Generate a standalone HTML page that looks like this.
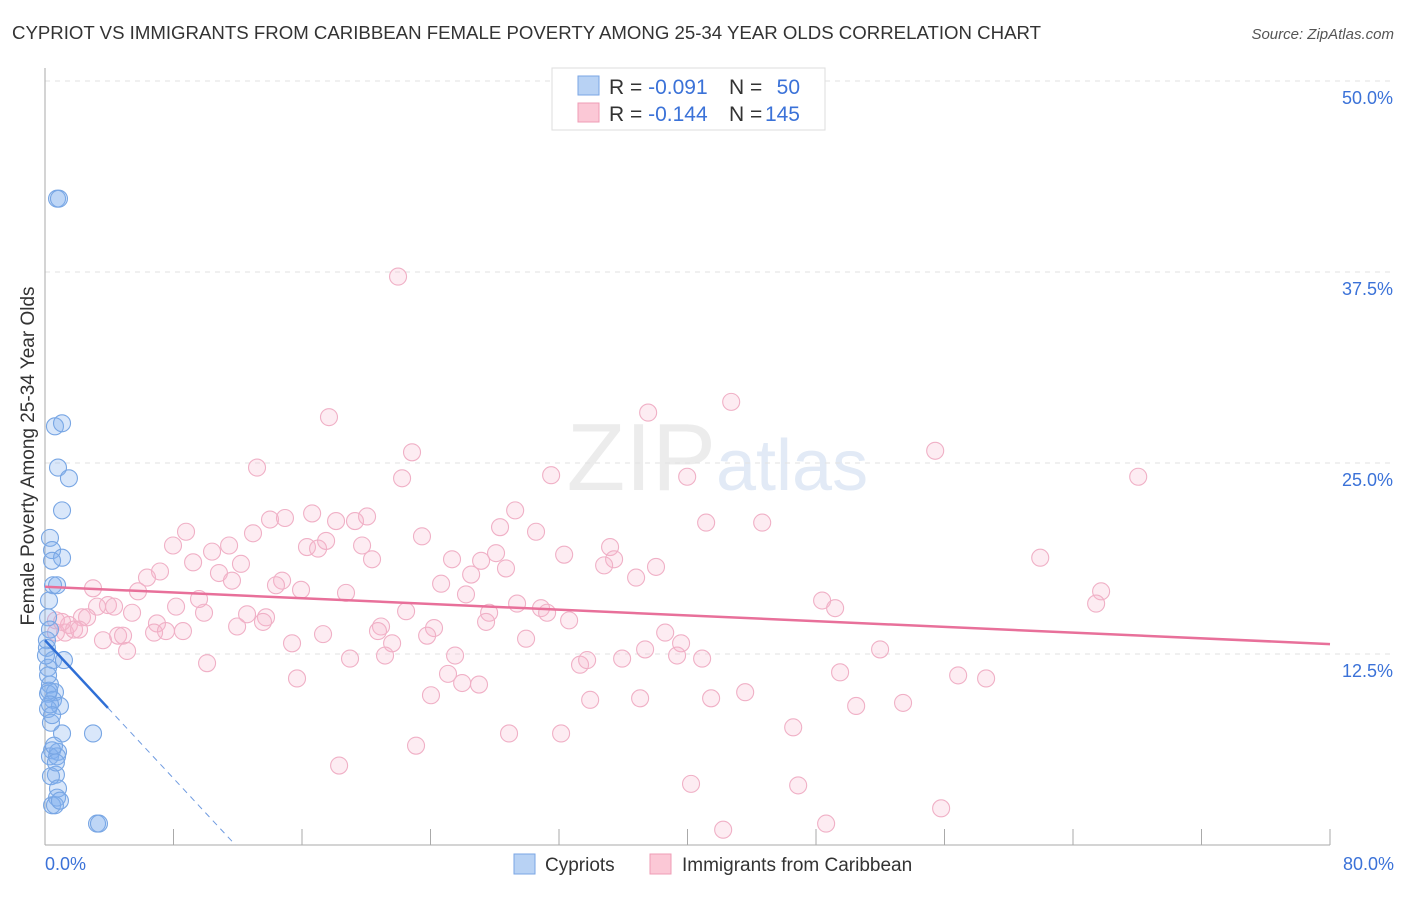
<!DOCTYPE html>
<html><head><meta charset="utf-8"><style>
body{margin:0;background:#fff;font-family:"Liberation Sans",sans-serif;}
svg text{font-family:"Liberation Sans",sans-serif;}
</style></head><body>
<svg id="chart" width="1406" height="892" xmlns="http://www.w3.org/2000/svg">
<text x="12" y="39" font-size="18.6" fill="#333" textLength="1029" lengthAdjust="spacingAndGlyphs">CYPRIOT VS IMMIGRANTS FROM CARIBBEAN FEMALE POVERTY AMONG 25-34 YEAR OLDS CORRELATION CHART</text>
<text x="1394" y="39" font-size="15" fill="#555" text-anchor="end" font-style="italic">Source: ZipAtlas.com</text>
<text x="716" y="490" font-size="96" fill="#ececec" text-anchor="end" font-family="Liberation Serif">ZIP</text>
<text x="716" y="490" font-size="72" fill="#e2eaf6">atlas</text>
<g id="grid"></g><g id="axes"></g><g id="pts"></g><g id="lines"></g>
<text transform="translate(34,456) rotate(-90)" font-size="19" fill="#333" text-anchor="middle">Female Poverty Among 25-34 Year Olds</text>
<g>
<rect x="552" y="68" width="273" height="62" fill="#fff" stroke="#ddd"/>
<rect x="578" y="76" width="21" height="19" fill="#b8d2f4" stroke="#7aa6e4"/>
<rect x="578" y="103" width="21" height="19" fill="#fbc8d6" stroke="#ef9cb6"/>
<text x="609" y="94" font-size="21" fill="#333">R = <tspan fill="#3b72d8">-0.091</tspan></text>
<text x="729" y="94" font-size="21" fill="#333">N = </text>
<text x="800" y="94" font-size="21" fill="#3b72d8" text-anchor="end">50</text>
<text x="609" y="121" font-size="21" fill="#333">R = <tspan fill="#3b72d8">-0.144</tspan></text>
<text x="729" y="121" font-size="21" fill="#333">N = </text>
<text x="800" y="121" font-size="21" fill="#3b72d8" text-anchor="end">145</text>
</g>
<g>
<rect x="514" y="854" width="21" height="20" fill="#b8d2f4" stroke="#7aa6e4"/>
<text x="545" y="871" font-size="19" fill="#333">Cypriots</text>
<rect x="650" y="854" width="21" height="20" fill="#fbc8d6" stroke="#ef9cb6"/>
<text x="682" y="871" font-size="19" fill="#333">Immigrants from Caribbean</text>
</g>
</svg>
<script>
const yTicks=[12.5,25,37.5,50];
const yTickLabels=["12.5%","25.0%","37.5%","50.0%"];
const xTickLabels=["0.0%","80.0%"];
const blueX=[.75,.87,.62,1.06,.81,1.49,1.06,.31,.44,1.06,.44,.5,.75,.25,.19,.31,.12,.5,1.18,.19,.31,.62,.19,.5,.93,.19,.37,1.06,2.99,.44,.81,.31,.75,.68,.37,.81,.75,.44,.62,3.24,3.36,.12,.06,.25,.31,.56,.68,.93,.19,.44];
const blueY=[42.3,42.3,27.4,27.6,24.7,24.0,21.9,20.1,19.3,18.8,18.6,17.0,17.0,16.0,14.9,14.1,12.9,12.1,12.1,11.6,10.5,10.0,9.9,9.5,9.1,8.9,8.0,7.3,7.3,6.2,6.1,5.8,5.8,4.6,4.5,3.7,3.1,2.6,2.6,1.4,1.4,13.4,12.4,10.1,9.2,6.5,5.4,2.9,11.1,8.5];
const pinkX=[21.98,17.68,37.55,42.72,55.42,68.06,22.85,22.23,31.51,39.98,13.2,29.27,28.33,30.57,41.16,44.65,14.01,14.94,16.63,18.12,19.3,20.05,8.78,7.97,10.4,11.46,12.95,16.31,17.0,17.5,19.74,23.47,25.34,28.08,27.15,28.7,32.32,35.18,35.43,34.81,36.8,38.04,61.96,9.22,10.83,11.64,12.2,7.16,6.35,14.76,14.38,15.94,18.74,20.36,24.66,26.21,26.53,2.99,5.79,3.92,3.24,4.3,5.42,8.16,9.9,9.59,12.58,13.76,13.57,22.48,29.39,30.88,31.26,32.63,27.65,27.46,48.38,49.19,65.75,65.44,.68,1.49,2.3,2.62,1.25,1.81,2.12,.68,3.61,4.55,4.86,6.97,6.79,7.53,8.59,11.96,15.38,17.31,20.92,20.73,24.22,23.79,21.61,29.95,38.61,39.6,5.11,18.99,21.17,25.53,35.93,37.36,39.35,40.91,33.31,33.75,51.99,10.09,25.09,25.97,27.02,49.5,56.85,58.59,15.69,24.03,33.94,37.05,41.47,43.59,50.5,53.42,28.89,32.13,46.58,23.1,18.31,40.22,46.89,55.79,48.63,42.22,1.06];
const pinkY=[37.2,28.0,28.3,29.0,25.8,24.1,25.7,24.0,24.2,24.1,24.7,21.9,20.8,20.5,21.1,21.1,21.3,21.4,21.7,21.2,21.2,21.5,20.5,19.6,19.2,19.6,20.4,19.5,19.4,19.9,19.6,20.2,18.7,19.1,18.6,18.1,19.0,19.5,18.7,18.3,17.5,18.2,18.8,18.5,17.8,17.3,18.4,17.9,17.5,17.3,17.0,16.7,16.5,18.7,17.1,16.4,17.7,16.8,16.6,15.7,15.6,15.6,15.2,15.6,15.2,16.1,15.1,14.9,14.6,15.3,15.8,15.5,15.2,14.7,15.2,14.6,16.0,15.5,16.6,15.8,14.7,14.4,14.9,14.9,13.9,14.1,14.1,13.9,13.4,13.7,13.7,14.5,13.9,14.0,14.0,14.3,13.2,13.8,14.3,14.0,14.2,13.7,13.2,13.5,13.9,13.2,12.7,12.2,12.4,12.4,12.2,12.8,12.4,12.2,11.8,12.1,12.8,11.9,11.2,10.6,10.5,11.3,11.1,10.9,10.9,9.8,9.5,9.6,9.6,10.0,9.1,9.3,7.3,7.3,7.7,6.5,5.2,4.0,3.9,2.4,1.4,1.0,14.6];
const pinkTrend=[16.9,13.15];
const blueTrend=[13.4,-1.13];
const NS="http://www.w3.org/2000/svg";
const X=v=>45+v*(1285/80), Y=v=>845-v*15.28;
function mk(t,a,p){const e=document.createElementNS(NS,t);for(const k in a)e.setAttribute(k,a[k]);document.getElementById(p).appendChild(e);return e;}
yTicks.forEach((t,i)=>{
 const g=mk('line',{x1:45,x2:1392,y1:Y(t),y2:Y(t),stroke:'#e2e2e2','stroke-dasharray':'5,5'},'grid');
 
 
 const tx=mk('text',{x:1393,y:Y(t)+23,'font-size':18,fill:'#3b72d8','text-anchor':'end'},'axes');tx.textContent=yTickLabels[i];
 
 
});
let a=mk('line',{x1:45,x2:45,y1:68,y2:845,stroke:'#aaa'},'axes');


a=mk('line',{x1:45,x2:1330,y1:845,y2:845,stroke:'#aaa'},'axes');


for(let i=0;i<=10;i++){const t=mk('line',{x1:X(i*8),x2:X(i*8),y1:829,y2:845,stroke:'#aaa'},'axes');
 
 }
[[0,'start',45],[80,'end',1394]].forEach((d,i)=>{const t=mk('text',{x:d[2],y:870,'font-size':18,fill:'#3b72d8','text-anchor':d[1]},'axes');t.textContent=xTickLabels[i];
 
 });
pinkX.forEach((x,i)=>{const c=mk('circle',{cx:X(x),cy:Y(pinkY[i]),r:8.5,fill:'rgba(248,180,202,0.25)',stroke:'#f0b0c6','stroke-width':1.1},'pts');
 
 });
blueX.forEach((x,i)=>{const c=mk('circle',{cx:X(x),cy:Y(blueY[i]),r:8.5,fill:'rgba(130,175,240,0.3)',stroke:'#78a6e4','stroke-width':1.1},'pts');
 
 });
let l=mk('line',{x1:X(0),y1:Y(pinkTrend[0]),x2:X(80),y2:Y(pinkTrend[1]),stroke:'#e8709a','stroke-width':2.5},'lines');


const bx=3.92, bz=-blueTrend[0]/blueTrend[1];
l=mk('line',{x1:X(0),y1:Y(blueTrend[0]),x2:X(bx),y2:Y(blueTrend[0]+blueTrend[1]*bx),stroke:'#2f6fd6','stroke-width':2.5},'lines');


l=mk('line',{x1:X(bx),y1:Y(blueTrend[0]+blueTrend[1]*bx),x2:X(bz),y2:Y(0),stroke:'#6f9be0','stroke-width':1,'stroke-dasharray':'6,5'},'lines');


</script>
</body></html>
